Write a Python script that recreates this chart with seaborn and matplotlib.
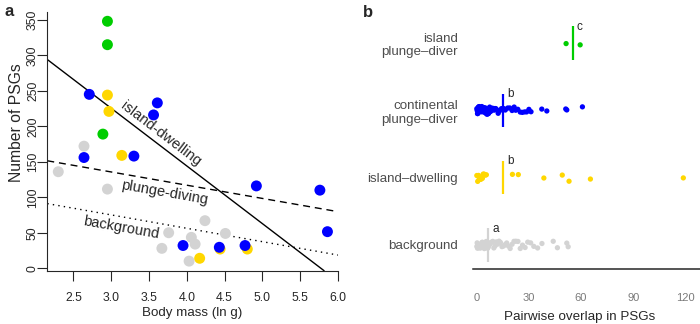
import numpy as np
import pandas as pd
import matplotlib
matplotlib.use("Agg")
import matplotlib.pyplot as plt
import seaborn as sns

sns.set_style("ticks")
plt.rcParams['font.family'] = ['Liberation Sans', 'DejaVu Sans']

# ---- panel a data: body mass vs number of PSGs ----
gray_x = [2.30, 2.64, 2.95, 3.67, 3.76, 4.03, 4.06, 4.11, 4.24, 4.51]
gray_y = [136, 172, 111.5, 28, 50, 10, 43.5, 34, 67, 49]
yellow_x = [2.95, 2.97, 3.14, 4.17, 4.44, 4.80]
yellow_y = [244, 221, 159, 14, 27, 27]
green_x = [2.95, 2.95, 2.89]
green_y = [348, 315, 189]
blue_x = [2.71, 2.64, 3.30, 3.56, 3.61, 3.95, 4.43, 4.77, 4.92, 5.76, 5.86]
blue_y = [245, 156, 158, 216, 233, 32, 29.5, 32, 116, 110, 51.5]

# fitted lines (intercept, slope)
fit_names = ["island-dwelling", "plunge-diving", "background"]
fit_intercepts = [469.3, 191.6, 131.7]
fit_slopes = [-81.3, -18.65, -18.86]

# ---- panel b data: pairwise overlap in PSGs ----
groups_b = ["island\nplunge\u2013diver", "continental\nplunge\u2013diver",
            "island\u2013dwelling", "background"]
green_b = [51.4, 59.5]
blue_b = [0.0, 0.2, 0.4, 0.5, 0.8, 1.0, 1.1, 1.3, 1.5, 1.8, 2.0, 2.2, 2.5, 2.7,
          2.9, 3.0, 3.2, 3.4, 3.5, 3.8, 4.0, 4.3, 4.5, 4.8, 5.0, 5.2, 5.3, 5.6,
          6.0, 6.3, 6.6, 6.8, 7.0, 7.4, 7.8, 8.1, 8.5, 9.0, 9.4, 10.0, 10.5,
          11.0, 11.6, 12.3, 13.0, 14.2, 15.5, 16.4, 17.8, 19.0, 20.3, 21.5,
          22.4, 23.6, 25.0, 26.2, 27.5, 28.7, 30.0, 31.2, 37.4, 40.3, 51.2,
          51.8, 60.8]
yellow_b = [0.0, 0.5, 1.0, 1.4, 1.8, 2.3, 2.8, 3.2, 3.7, 4.2, 4.8, 5.5,
            20.5, 23.9, 38.6, 49.2, 53.1, 65.4, 118.9]
gray_b = [0.0, 0.2, 0.4, 0.6, 0.8, 1.0, 1.2, 1.5, 1.7, 2.0, 2.3, 2.5, 2.8,
          3.0, 3.3, 3.6, 4.0, 4.3, 4.7, 5.0, 5.4, 5.8, 6.2, 6.6, 7.0, 7.5,
          8.0, 8.6, 9.2, 9.8, 10.5, 11.2, 12.0, 12.8, 13.6, 14.5, 15.4, 16.3,
          17.2, 18.2, 19.2, 20.3, 21.4, 22.5, 23.7, 25.0, 26.3, 27.8, 29.3,
          31.0, 32.8, 35.0, 37.5, 44.0, 46.4, 51.8, 52.6]
medians_b = [55.3, 15.0, 15.3, 6.7]
letters_b = ["c", "b", "b", "a"]

col_green = "#00CD00"
col_blue = "#0000FF"
col_yellow = "#FFD700"
col_gray = "#D3D3D3"
colors_b = [col_green, col_blue, col_yellow, col_gray]

df_a = pd.DataFrame({
    "mass": gray_x + yellow_x + green_x + blue_x,
    "psg": gray_y + yellow_y + green_y + blue_y,
    "grp": (["bg"] * len(gray_x) + ["isl"] * len(yellow_x)
            + ["ipd"] * len(green_x) + ["cpd"] * len(blue_x)),
})
df_b = pd.DataFrame({
    "overlap": green_b + blue_b + yellow_b + gray_b,
    "grp": ([groups_b[0]] * len(green_b) + [groups_b[1]] * len(blue_b)
            + [groups_b[2]] * len(yellow_b) + [groups_b[3]] * len(gray_b)),
})

fig = plt.figure(figsize=(7, 3.24), dpi=100)

# ---------------- panel a ----------------
ax = fig.add_axes([0.0676, 0.1645, 0.4153, 0.7994])
sns.scatterplot(data=df_a, x="mass", y="psg", hue="grp",
                palette={"bg": col_gray, "isl": col_yellow,
                         "ipd": col_green, "cpd": col_blue},
                s=62, linewidth=0, legend=False, ax=ax, zorder=3)
ax.set_xlim(2.155, 6.0)
ax.set_ylim(-3.5, 361.5)
styles = ["-", (0, (5, 3.5)), (0, (1, 3))]
for b0, b1, ls in zip(fit_intercepts, fit_slopes, styles):
    ax.axline((0, b0), slope=b1, color="black", lw=1.0, ls=ls, zorder=2)

label_pos = [(3.66, 190), (3.70, 107), (3.13, 57)]
for name, (lx, ly), b1 in zip(fit_names, label_pos, fit_slopes):
    ax.text(lx, ly, name, rotation=np.degrees(np.arctan(b1)),
            transform_rotates_text=True, rotation_mode="anchor",
            ha="center", va="center", fontsize=10.5, zorder=4)

ax.set_xticks(np.arange(2.5, 6.01, 0.5))
ax.set_yticks(np.arange(0, 351, 50))
ax.set_xticklabels([f"{v:.1f}" for v in np.arange(2.5, 6.01, 0.5)])
ax.tick_params(axis="x", length=7, width=0.8, pad=8.5, labelsize=8.8)
ax.tick_params(axis="y", length=7, width=0.8, pad=-1, labelsize=8.8,
               labelrotation=90)
for lab in ax.get_yticklabels():
    lab.set_va("center")
ax.set_xlabel("Body mass (ln g)", fontsize=9.6)
ax.set_ylabel("Number of PSGs", fontsize=11.3)
ax.xaxis.set_label_coords(0.5, -0.14)
ax.yaxis.set_label_coords(-0.08, 0.57)
for sp in ["top", "right"]:
    ax.spines[sp].set_visible(False)
for sp in ["left", "bottom"]:
    ax.spines[sp].set_linewidth(0.8)
fig.text(0.007, 0.965, "a", fontsize=12, fontweight="bold", va="center")

# ---------------- panel b ----------------
bx = fig.add_axes([0.6762, 0.1698, 0.3238, 0.7716])
np.random.seed(3)
sns.stripplot(data=df_b, x="overlap", y="grp", hue="grp", order=groups_b,
              palette=dict(zip(groups_b, colors_b)), jitter=0.06, size=3.8,
              linewidth=0, legend=False, ax=bx, zorder=3)
for i, (m, c, let) in enumerate(zip(medians_b, colors_b, letters_b)):
    bx.vlines(m, i - 0.25, i + 0.25, color=c, lw=1.6, zorder=4)
    bx.text(m + 2.3, i - 0.24, let, fontsize=8.5, ha="left", va="center")
bx.set_xlim(-2.0, 128.5)
bx.set_ylim(3.36, -0.36)
bx.set_xticks([0, 30, 60, 90, 120])
bx.tick_params(axis="x", length=0, pad=17, labelsize=8, labelcolor="#7a7a7a")
bx.tick_params(axis="y", length=0, pad=11, labelsize=9.6, labelcolor="#4d4d4d")
for lab in bx.get_yticklabels():
    lab.set_ha("right")
    lab.set_multialignment("right")
bx.set_ylabel("")
bx.set_xlabel("Pairwise overlap in PSGs", fontsize=9.6)
bx.xaxis.set_label_coords(0.47, -0.17)
for sp in ["top", "right", "left"]:
    bx.spines[sp].set_visible(False)
bx.spines["bottom"].set_linewidth(1.1)
fig.text(0.518, 0.962, "b", fontsize=12, fontweight="bold", va="center")

fig.savefig("out.png", dpi=100)
